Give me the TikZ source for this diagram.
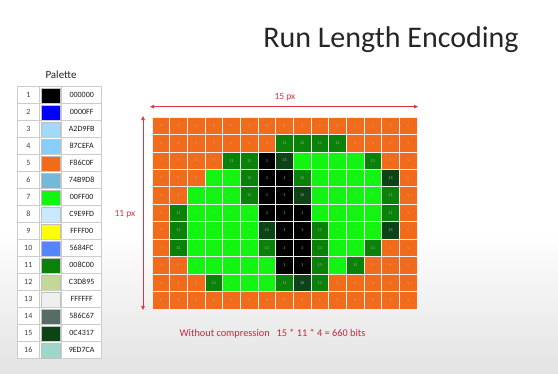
\documentclass[tikz,border=0pt]{standalone}
\usepackage{fontspec}
\setmainfont{Carlito}
\usetikzlibrary{arrows.meta}
\definecolor{pal1}{HTML}{000000}
\definecolor{pal2}{HTML}{0000FF}
\definecolor{pal3}{HTML}{A2D9FB}
\definecolor{pal4}{HTML}{87CEFA}
\definecolor{pal5}{HTML}{F26B1A}
\definecolor{pal6}{HTML}{74B9D8}
\definecolor{pal7}{HTML}{11F511}
\definecolor{pal8}{HTML}{C9E9FD}
\definecolor{pal9}{HTML}{FFFF00}
\definecolor{pal10}{HTML}{5684FC}
\definecolor{pal11}{HTML}{0A820A}
\definecolor{pal12}{HTML}{C3D895}
\definecolor{pal13}{HTML}{EFEFEF}
\definecolor{pal14}{HTML}{586C67}
\definecolor{pal15}{HTML}{0C4317}
\definecolor{pal16}{HTML}{9ED7CA}
\definecolor{dimred}{HTML}{E0343E}
\definecolor{notered}{HTML}{C8283C}
\definecolor{tblline}{HTML}{CCCCCC}
\definecolor{celltext}{HTML}{A8A8A8}
\begin{document}
\begin{tikzpicture}[x=1pt,y=-1pt,
  cell/.style={draw=white!88!gray, line width=0.8pt, inner sep=0pt,
    minimum width=17.67pt, minimum height=17.45pt, text=celltext,
    font=\fontsize{4.3}{5}\selectfont},
  tcell/.style={draw=tblline, line width=0.7pt, inner sep=0pt, fill=white,
    minimum height=17pt, text=black!75, font=\fontsize{8}{9}\selectfont},
  swatch/.style={inner sep=0pt, minimum width=19.5pt, minimum height=15pt, draw=black!25, line width=0.3pt},
  dim/.style={draw=dimred, line width=0.8pt, {Triangle[length=4pt,width=3.5pt]}-{Triangle[length=4pt,width=3.5pt]}},
  dimlabel/.style={text=dimred, font=\fontsize{9.5}{11}\selectfont}]
\useasboundingbox (0,0) rectangle (558,373);
\fill[white] (0,0) rectangle (558,373);
\shade[top color=white, bottom color=black!11] (0,230) rectangle (558,373);
% title
\node[text=black!85, font=\fontsize{30}{34}\selectfont] (title) at (391,40) {Run Length Encoding};
% palette
\node[text=black!85, font=\fontsize{11}{13}\selectfont] (palhead) at (61,75) {Palette};
\foreach \hx [count=\i] in {000000,0000FF,A2D9FB,87CEFA,F86C0F,74B9D8,00FF00,C9E9FD,FFFF00,5684FC,008C00,C3D895,FFFFFF,586C67,0C4317,9ED7CA} {
  \node[tcell, minimum width=22pt] (pn\i) at (28.3,{86.7+(\i-0.5)*17}) {\i};
  \node[tcell, minimum width=22.4pt] (pc\i) at (50.5,{86.7+(\i-0.5)*17}) {};
  \node[swatch, fill=pal\i] (ps\i) at (pc\i) {};
  \node[tcell, minimum width=40pt, text=black!90, font=\fontsize{8}{9}\selectfont] (ph\i) at (81.7,{86.7+(\i-0.5)*17}) {\hx};
}
% grid
\foreach \rowvals [count=\r] in {
  {5,5,5,5,5,5,5,5,5,5,5,5,5,5,5},
  {5,5,5,5,5,5,5,11,11,11,11,5,5,5,5},
  {5,5,5,5,11,11,1,15,7,7,7,7,11,5,5},
  {5,5,5,7,7,11,1,1,11,7,7,7,7,15,5},
  {5,5,7,7,7,11,1,1,15,7,7,7,7,11,5},
  {5,11,7,7,7,7,1,1,1,7,7,7,7,11,5},
  {5,11,7,7,7,7,15,1,1,11,7,7,7,15,5},
  {5,11,7,7,7,7,11,1,1,11,7,7,11,5,5},
  {5,5,7,7,7,7,7,1,1,11,7,11,5,5,5},
  {5,5,5,11,7,7,7,11,15,11,5,5,5,5,5},
  {5,5,5,5,5,5,5,5,5,5,5,5,5,5,5}} {
  \foreach \v [count=\c] in \rowvals {
    \node[cell, fill=pal\v] (g-\r-\c) at ({152+(\c-0.5)*17.67},{117+(\r-0.5)*17.45}) {\v};
  }
}
% dimensions
\coordinate (wL) at (150,106.7);
\coordinate (wR) at (418,106.7);
\draw[dim] (wL) -- (wR);
\node[dimlabel] (wlab) at (285,97) {15 px};
\coordinate (hT) at (143,116);
\coordinate (hB) at (143,310);
\draw[dim] (hT) -- (hB);
\node[dimlabel] (hlab) at (125,214) {11 px};
% note
\node[text=notered, font=\fontsize{10.3}{12}\selectfont, anchor=west] (note) at (176,334) {Without compression\ \ \ 15 * 11 * 4 = 660 bits};
\end{tikzpicture}
\end{document}
